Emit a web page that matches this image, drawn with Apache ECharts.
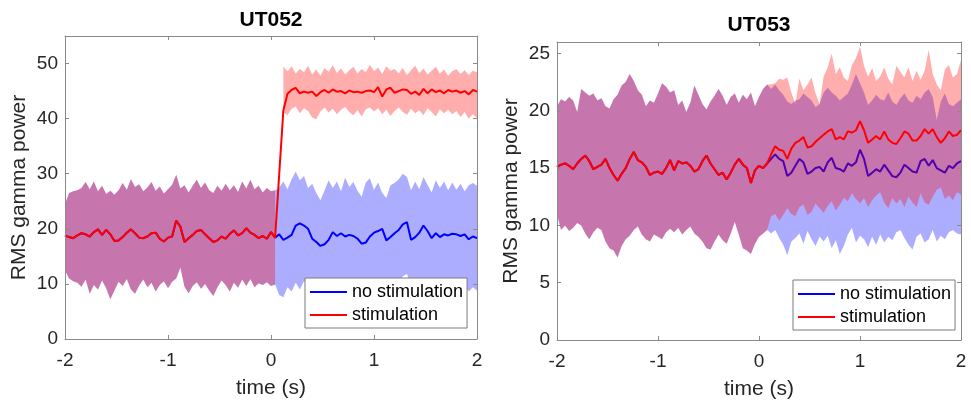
<!DOCTYPE html>
<html>
<head>
<meta charset="utf-8">
<script src="https://cdn.jsdelivr.net/npm/echarts@6/dist/echarts.min.js"></script>
<style>html,body{margin:0;padding:0;background:#fff;}#c{width:971px;height:407px;}</style>
</head>
<body>
<div id="c"></div>
<script>
// ---------- DATA ----------
const titles = ['UT052', 'UT053'];
const legendNames = ['no stimulation', 'stimulation'];
const xTicks = [-2, -1, 0, 1, 2];
const yMax052 = 55, yStep052 = 10;
const yMax053 = 26, yStep053 = 5;

// sample grid (seconds), 0.04 s spacing
function grid(t0, t1) { const a = []; for (let k = Math.round(t0 * 25); k <= Math.round(t1 * 25); k++) a.push(k / 25); return a; }

// UT052: pre-stimulus (both conditions identical), t = -2.00 .. 0.04
const t052Pre = grid(-2, 0.04);
const mean052Pre = [18.8,18.5,18.3,18.8,19.2,19.0,18.6,19.4,19.9,18.9,
  19.8,19.0,17.8,17.9,18.5,19.3,19.9,19.2,18.4,18.3,
  18.6,19.2,19.3,18.2,17.7,18.4,18.6,21.5,20.4,17.6,
  18.3,18.9,19.6,19.8,19.0,18.3,17.6,17.9,18.6,18.2,
  19.1,19.7,18.8,19.2,20.1,19.3,18.9,18.3,18.7,18.2,
  19.4,18.4];
const hi052Pre = [24.5,26.5,26.8,27.0,27.4,28.5,27.2,28.6,26.8,27.8,
  26.3,26.9,26.2,27.0,28.3,27.1,29.0,27.6,28.1,26.8,
  27.5,28.5,26.9,27.7,26.4,27.2,28.0,29.8,27.3,27.9,
  26.6,27.8,28.9,27.4,28.4,27.0,26.5,27.8,26.9,28.2,
  27.0,27.9,26.7,28.6,27.3,28.9,27.2,27.8,26.6,27.4,
  26.8,27.0];
const lo052Pre = [12.5,11.0,10.5,10.2,9.5,10.8,8.2,9.8,9.0,10.6,
  9.2,7.2,8.8,10.4,9.6,10.9,9.0,8.2,9.7,10.8,
  9.4,10.2,8.6,9.8,10.5,9.2,10.4,11.0,13.0,9.5,
  8.3,9.6,10.3,9.1,10.0,8.8,7.8,9.4,10.6,9.8,
  8.6,10.2,9.3,10.8,9.6,10.9,9.4,10.1,9.8,10.3,
  9.6,9.9];
// UT052 post, t = 0.08 .. 2.00
const t052Post = grid(0.08, 2);
const meanNoStim052Post = [19.0,18.0,18.4,18.9,20.6,21.0,20.6,20.0,18.2,17.6,
  16.9,17.2,18.0,19.4,18.7,19.2,18.6,18.9,18.7,18.2,
  17.3,17.5,18.6,19.3,19.6,20.0,17.9,18.5,19.2,19.8,
  20.8,21.2,18.0,18.5,19.3,20.6,19.6,18.3,19.2,18.5,
  19.0,18.8,19.1,19.0,18.7,19.0,18.1,18.6,18.3];
const hiNoStim052Post = [27.5,28.6,27.2,29.0,30.4,28.8,29.6,27.4,28.2,26.5,
  25.2,27.0,28.8,27.4,28.6,26.8,29.3,27.6,28.5,26.9,
  25.8,28.4,29.2,27.1,28.4,26.5,25.6,27.9,28.3,29.0,
  30.0,29.4,27.0,28.6,27.2,29.4,28.0,26.6,28.8,27.4,
  28.6,27.0,28.4,27.1,28.2,26.8,27.9,28.3,27.8];
const loNoStim052Post = [8.0,7.6,9.4,8.6,10.2,9.0,10.5,9.8,10.8,9.5,
  8.9,10.2,9.6,10.9,9.8,10.4,9.2,10.6,9.9,10.8,
  9.4,10.2,10.9,9.8,10.5,9.6,10.3,9.4,10.6,10.0,
  11.4,11.8,9.8,10.5,9.3,10.8,9.9,10.4,9.5,10.6,
  9.8,10.3,9.6,10.5,9.1,9.8,8.6,9.4,8.8];
const meanStim052Post = [30.0,41.5,44.5,45.2,45.6,44.6,44.9,44.7,44.9,44.1,
  44.8,45.2,44.7,45.3,44.9,45.0,44.6,45.1,44.8,44.9,
  44.7,45.0,45.1,44.8,45.7,44.0,45.3,45.6,44.7,45.0,
  45.3,45.2,44.5,44.9,44.3,45.4,44.6,45.3,44.8,45.1,
  44.6,45.2,44.9,45.1,44.7,45.0,44.4,45.2,44.9];
// UT052 stimulation band after onset, t = 0.12 .. 2.00
const t052StimBand = grid(0.12, 2);
const hiStim052Post = [49.4,48.6,49.5,48.2,49.0,48.4,49.6,48.0,48.9,47.8,
  49.2,48.5,49.7,48.3,49.1,48.0,48.8,49.4,48.2,49.0,
  48.4,49.8,48.6,49.3,48.1,49.5,48.7,49.0,48.2,49.2,
  47.9,48.8,49.6,48.3,49.1,48.0,48.7,49.4,48.2,48.9,
  47.8,48.6,49.0,48.1,48.8,47.9,48.7,48.4];
const loStim052Post = [41.2,40.6,41.8,42.2,41.0,41.9,41.4,40.2,39.9,41.3,
  42.0,41.1,41.8,40.8,41.6,42.1,41.2,40.6,41.5,40.4,
  41.7,42.0,41.3,41.9,40.8,41.6,40.5,41.4,42.0,41.2,
  40.7,41.8,41.0,41.5,40.6,41.9,41.2,40.4,41.7,41.0,
  41.6,40.8,41.4,40.3,41.2,40.0,40.8,40.1];

// UT053: pre-stimulus, t = -2.00 .. 0.08
const t053Pre = grid(-2, 0.08);
const mean053Pre = [15.1,15.3,15.4,15.2,14.9,15.4,15.8,16.1,15.6,14.9,
  15.1,15.3,15.8,15.0,14.4,13.9,14.5,15.0,15.8,16.4,
  15.7,15.5,15.1,14.4,14.6,14.7,14.5,15.0,15.7,14.8,
  15.6,15.4,15.5,15.2,14.7,14.9,15.6,16.1,15.4,14.9,
  14.4,14.6,14.0,14.6,15.3,15.8,15.3,15.0,13.7,14.8,
  15.2,15.0,15.4];
const hi053Pre = [20.4,21.0,20.8,21.2,20.9,19.9,21.9,21.6,21.3,21.5,
  20.9,21.1,20.4,20.2,21.0,21.4,22.2,22.5,23.2,22.6,
  21.8,21.4,20.4,20.9,20.7,21.5,22.4,22.1,21.6,21.8,
  20.5,20.9,19.9,20.7,22.2,21.4,20.6,20.1,20.8,21.3,
  21.9,21.3,20.5,21.2,21.5,20.7,21.4,21.0,21.6,20.4,
  21.2,21.9,22.3];
const lo053Pre = [11.0,9.6,10.0,9.5,9.8,10.2,10.0,9.3,8.8,9.4,
  9.8,9.6,8.6,8.0,7.8,7.2,8.2,8.8,9.1,9.6,
  9.9,9.2,8.8,8.6,9.2,9.0,8.8,9.4,9.7,9.4,
  9.8,9.2,9.6,9.9,9.3,9.0,8.6,8.0,7.9,8.6,
  9.2,8.7,8.4,9.3,10.3,9.2,8.0,7.8,7.5,8.4,
  9.0,9.3,9.6];
// UT053 post, t = 0.12 .. 2.00
const t053Post = grid(0.12, 2);
const meanNoStim053Post = [15.8,16.2,15.8,15.6,14.3,14.6,15.2,15.8,15.5,14.5,
  14.7,15.0,15.1,14.7,15.5,15.9,15.0,14.9,14.7,15.4,
  15.2,15.5,16.6,15.8,14.3,14.6,14.9,14.7,15.3,14.8,
  14.3,14.2,14.6,15.3,15.0,14.7,14.6,15.6,15.8,15.2,
  15.7,15.0,14.8,14.6,15.2,15.0,15.4,15.6];
const hiNoStim053Post = [21.9,22.3,21.8,21.4,20.8,20.6,20.9,21.0,21.5,21.2,
  20.9,20.3,20.6,21.6,22.0,21.6,21.3,20.9,21.2,21.5,
  22.3,23.2,22.4,21.6,20.5,20.9,21.4,21.0,20.9,21.6,
  20.8,20.5,21.1,21.5,20.9,20.7,21.3,21.0,21.6,21.9,
  21.2,19.2,20.8,21.5,20.6,20.4,20.7,21.0];
const loNoStim053Post = [9.3,9.6,8.9,8.3,7.4,8.6,8.9,9.3,8.4,9.5,
  8.8,8.2,9.0,8.6,9.1,8.0,8.7,7.5,8.2,9.2,
  9.8,8.5,9.1,8.8,8.1,9.0,8.3,9.2,8.5,9.0,
  8.7,9.4,9.6,8.9,8.3,7.9,9.0,9.3,8.5,8.8,
  9.6,8.6,9.1,8.8,9.4,9.6,9.3,9.2];
const meanStim053Post = [16.2,16.9,16.6,16.5,15.8,16.7,17.2,17.4,17.7,16.8,
  16.9,17.3,17.6,17.9,18.2,18.4,17.5,17.7,17.5,18.2,
  18.1,18.3,19.1,18.3,17.2,17.5,17.8,17.5,18.2,17.5,
  17.2,17.1,17.6,18.2,18.0,17.4,17.4,17.8,18.4,18.0,
  18.4,17.7,17.2,17.6,18.2,17.8,17.9,18.3];
const hiStim053Post = [22.3,22.4,22.8,22.7,22.9,21.6,20.6,22.8,21.8,22.3,
  22.9,21.5,20.6,23.0,23.8,25.0,23.2,23.8,22.9,22.6,
  24.0,24.6,25.6,23.9,23.0,23.7,22.6,23.0,23.8,22.8,
  22.3,23.9,23.4,22.9,23.8,22.6,23.5,22.7,23.5,25.3,
  23.2,22.3,21.8,23.6,24.0,22.9,23.2,24.4];
const loStim053Post = [10.8,11.0,10.4,10.9,11.5,11.0,10.8,11.6,11.8,10.9,
  11.2,11.9,11.5,11.1,11.7,12.1,11.3,11.8,12.4,12.1,
  12.8,12.3,11.9,12.4,11.6,12.2,12.6,12.9,12.0,11.5,
  12.4,11.9,12.3,11.6,12.5,12.0,11.6,12.8,12.0,11.8,
  12.5,13.1,13.3,12.3,12.6,12.2,12.9,12.7];

// ---------- STYLE ----------
const FONT = "'Liberation Sans', Arial, Helvetica, sans-serif";
const AXIS = '#8a8a8a';
const TXT = '#262626';
const BLUE = '#0000ff', RED = '#ff0000';
const BLUE_FILL = 'rgba(0,0,255,0.32)', RED_FILL = 'rgba(255,0,0,0.32)';

function pts(times, vals) { return times.map((t, i) => [t, vals[i]]); }
function bandData(times, lo, hi) { return times.map((t, i) => [t, lo[i], hi[i]]); }

function band(id, gi, times, lo, hi, fill, z) {
  return {
    type: 'custom', id: id, name: id, xAxisIndex: gi * 2, yAxisIndex: gi * 2, z: z,
    silent: true, animation: false,
    encode: { x: 0, y: [1, 2] },
    data: bandData(times, lo, hi),
    renderItem: function (params, api) {
      if (params.dataIndexInside !== 0) return null;
      const n = params.dataInsideLength;
      const top = [], bot = [];
      for (let i = 0; i < n; i++) {
        const t = api.value(0, i);
        top.push(api.coord([t, api.value(2, i)]));
        bot.push(api.coord([t, api.value(1, i)]));
      }
      return { type: 'polygon', shape: { points: top.concat(bot.reverse()) }, style: { fill: fill } };
    }
  };
}
function line(name, gi, times, vals, color, z) {
  return {
    type: 'line', name: name, xAxisIndex: gi * 2, yAxisIndex: gi * 2, z: z,
    data: pts(times, vals), symbol: 'none', showSymbol: false, silent: true, animation: false,
    color: color, itemStyle: { color: color },
    lineStyle: { color: color, width: 2 }
  };
}

const grids = [
  { left: 65, top: 36, width: 412, height: 303 },
  { left: 557, top: 42, width: 404, height: 298 }
];
const yMaxes = [yMax052, yMax053], ySteps = [yStep052, yStep053];

const xAxis = [], yAxis = [];
[0, 1].forEach(gi => {
  const lineStyle = { color: AXIS, width: 1 };
  const tick = { show: true, inside: true, length: 4, lineStyle: { color: AXIS } };
  const xc = { type: 'value', gridIndex: gi, min: xTicks[0], max: xTicks[xTicks.length - 1], interval: 1,
    splitLine: { show: false }, axisLine: { show: true, onZero: false, lineStyle }, axisTick: tick, z: 8 };
  xAxis.push(Object.assign({}, xc, { position: 'bottom', name: 'time (s)', nameLocation: 'middle', nameGap: 39,
    nameTextStyle: { fontSize: 21, color: TXT, fontFamily: FONT },
    axisLabel: { margin: 12, fontSize: 19, color: TXT, fontFamily: FONT } }));
  xAxis.push(Object.assign({}, xc, { position: 'top', axisLabel: { show: false } }));
  const step = ySteps[gi];
  const yc = { type: 'value', gridIndex: gi, min: 0, max: yMaxes[gi], interval: step,
    splitLine: { show: false }, axisLine: { show: true, onZero: false, lineStyle }, axisTick: tick, z: 8 };
  yAxis.push(Object.assign({}, yc, { position: 'left', name: 'RMS gamma power', nameLocation: 'middle', nameGap: 35,
    nameRotate: 90, nameTextStyle: { fontSize: 21, color: TXT, fontFamily: FONT },
    axisLabel: { margin: 7, fontSize: 19, color: TXT, fontFamily: FONT,
      formatter: v => (Math.abs(v / step - Math.round(v / step)) < 1e-9 ? String(v) : '') } }));
  yAxis.push(Object.assign({}, yc, { position: 'right', axisLabel: { show: false } }));
});

// drawing order: blue band, blue line, red band, red line (red band tints the blue line)
const series = [
  // UT052
  band('b052blue', 0, t052Pre.concat(t052Post), lo052Pre.concat(loNoStim052Post), hi052Pre.concat(hiNoStim052Post), BLUE_FILL, 1),
  line(legendNames[0], 0, t052Pre.concat(t052Post), mean052Pre.concat(meanNoStim052Post), BLUE, 2),
  band('b052redPre', 0, t052Pre, lo052Pre, hi052Pre, RED_FILL, 3),
  band('b052redPost', 0, t052StimBand, loStim052Post, hiStim052Post, RED_FILL, 3),
  line(legendNames[1], 0, t052Pre.concat(t052Post), mean052Pre.concat(meanStim052Post), RED, 4),
  // UT053
  band('b053blue', 1, t053Pre.concat(t053Post), lo053Pre.concat(loNoStim053Post), hi053Pre.concat(hiNoStim053Post), BLUE_FILL, 1),
  line(legendNames[0], 1, t053Pre.concat(t053Post), mean053Pre.concat(meanNoStim053Post), BLUE, 2),
  band('b053red', 1, t053Pre.concat(t053Post), lo053Pre.concat(loStim053Post), hi053Pre.concat(hiStim053Post), RED_FILL, 3),
  line(legendNames[1], 1, t053Pre.concat(t053Post), mean053Pre.concat(meanStim053Post), RED, 4)
];

function legend(left, top) {
  return {
    orient: 'vertical', left: left, top: top, data: legendNames, selectedMode: false, z: 10,
    backgroundColor: '#fff', borderColor: '#7a7a7a', borderWidth: 1, borderRadius: 0,
    padding: [5, 4, 4, 5], itemGap: 5, itemWidth: 37, itemHeight: 2, icon: 'rect',
    textStyle: { fontSize: 18, color: '#000', fontFamily: FONT }
  };
}

const chart = echarts.init(document.getElementById('c'), null, { renderer: 'canvas' });
chart.setOption({
  backgroundColor: '#fff',
  animation: false,
  grid: grids,
  xAxis: xAxis,
  yAxis: yAxis,
  legend: [legend(305, 278), legend(793, 280)],
  graphic: [
    { type: 'text', x: 271, y: 20, style: { text: titles[0], align: 'center', verticalAlign: 'middle', font: 'bold 21px ' + FONT, fill: '#000' } },
    { type: 'text', x: 759, y: 25, style: { text: titles[1], align: 'center', verticalAlign: 'middle', font: 'bold 21px ' + FONT, fill: '#000' } }
  ],
  series: series
});
</script>
</body>
</html>
